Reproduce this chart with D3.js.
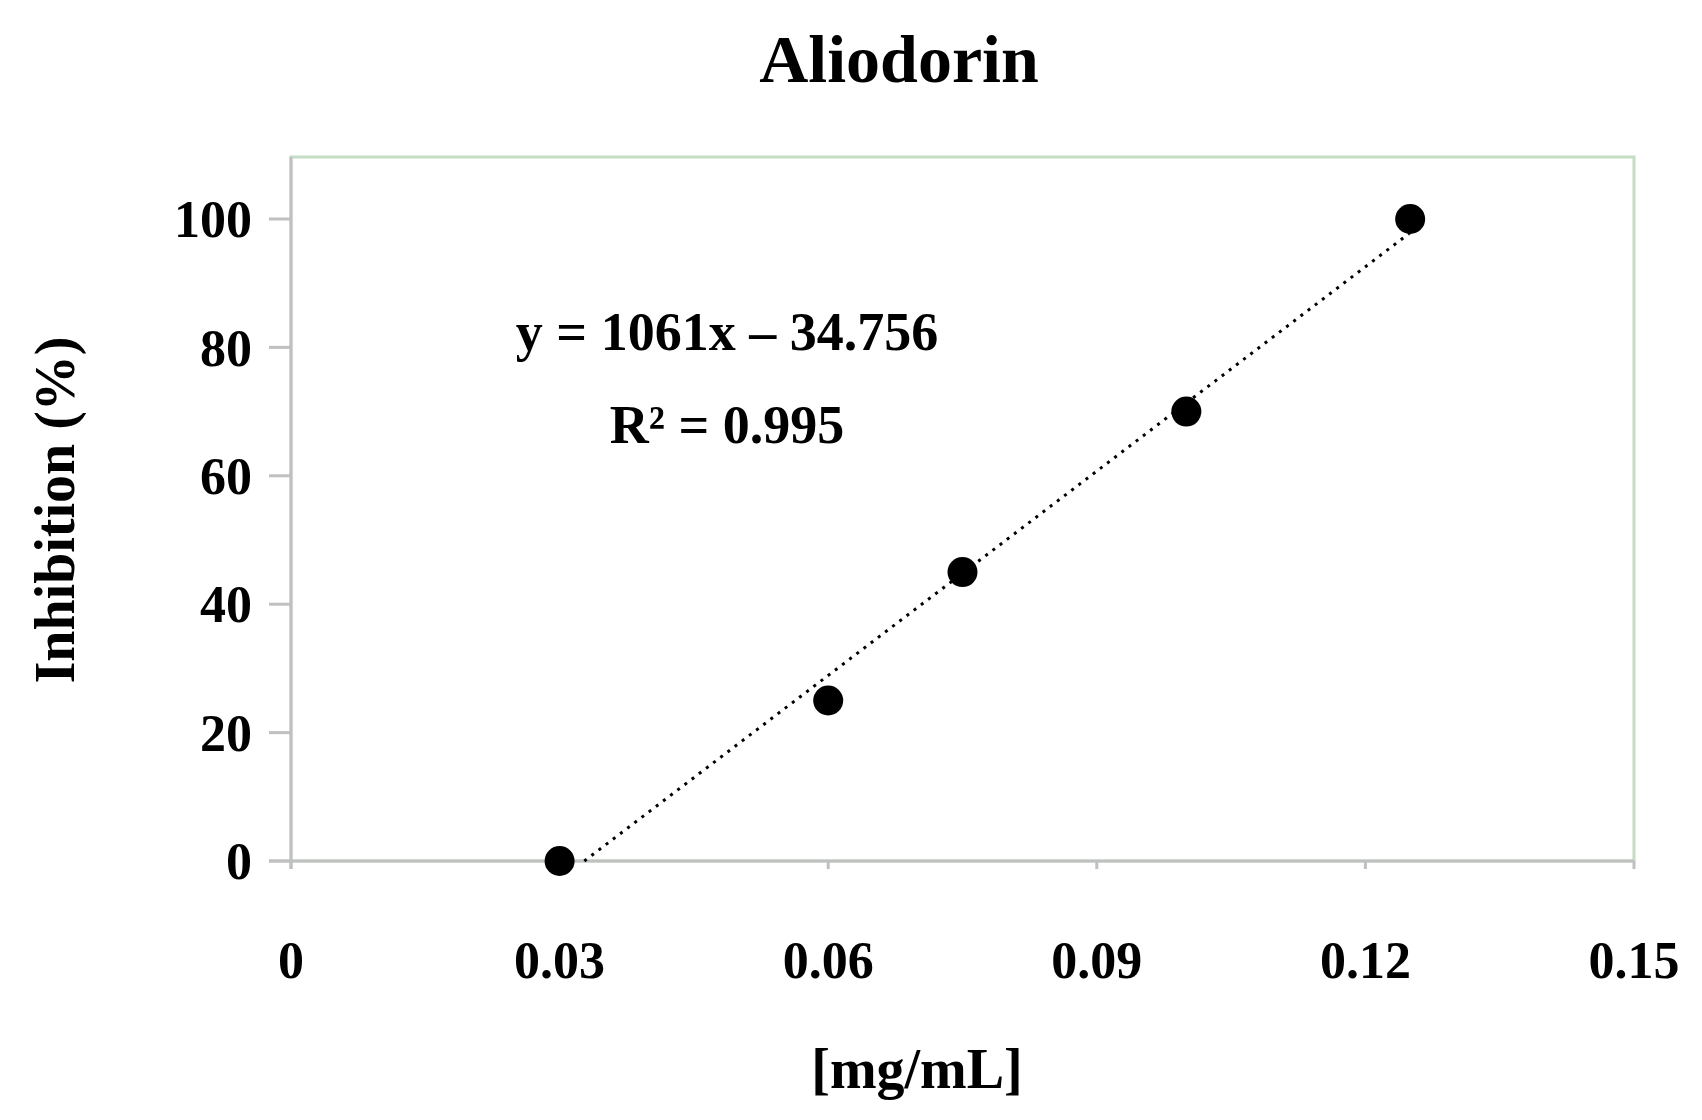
<!DOCTYPE html>
<html><head><meta charset="utf-8">
<script src="https://cdn.jsdelivr.net/npm/d3@7.9.0/dist/d3.min.js"></script>
<style>body{margin:0;background:#fff}text{font-family:"Liberation Serif","DejaVu Serif",serif;font-weight:bold;fill:#000}</style>
</head><body><svg id="chart" width="1702" height="1120"></svg>
<script>
const concentration = [0.03, 0.06, 0.075, 0.1, 0.125];
const inhibition = [0, 25, 45, 70, 100];
const xTicks = [0, 0.03, 0.06, 0.09, 0.12, 0.15];
const yTicks = [0, 20, 40, 60, 80, 100];
const slope = 1061, intercept = -34.756;

const svg = d3.select('#chart');
const pLeft = 291, pRight = 1634, pTop = 157, pBottom = 861;
const x = d3.scaleLinear().domain([0, 0.15]).range([pLeft, pRight]);
const y = d3.scaleLinear().domain([0, 100]).range([pBottom, 219]);

// frame
svg.append('rect').attr('x', pLeft).attr('y', pTop).attr('width', pRight - pLeft).attr('height', pBottom - pTop)
  .attr('fill', 'none').attr('stroke', '#c5dcc5').attr('stroke-width', 3);

// axes
svg.append('line').attr('x1', pLeft).attr('x2', pLeft).attr('y1', pTop).attr('y2', pBottom + 8)
  .attr('stroke', '#c0c0c0').attr('stroke-width', 3);
svg.append('line').attr('x1', pLeft - 22).attr('x2', pRight).attr('y1', y(0)).attr('y2', y(0))
  .attr('stroke', '#c0c0c0').attr('stroke-width', 3);

yTicks.forEach(t => {
  svg.append('line').attr('x1', pLeft - 22).attr('x2', pLeft).attr('y1', y(t)).attr('y2', y(t))
    .attr('stroke', '#c0c0c0').attr('stroke-width', 3);
  svg.append('text').attr('x', 252).attr('y', y(t)).attr('dy', '0.35em').attr('text-anchor', 'end')
    .attr('font-size', 52).text(t);
});
xTicks.forEach(t => {
  svg.append('line').attr('x1', x(t)).attr('x2', x(t)).attr('y1', pBottom).attr('y2', pBottom + 8)
    .attr('stroke', '#c0c0c0').attr('stroke-width', 3);
  svg.append('text').attr('x', x(t)).attr('y', 978).attr('text-anchor', 'middle')
    .attr('font-size', 52).text(t);
});

// trendline
const x0 = -intercept / slope;
svg.append('line').attr('x1', x(x0)).attr('y1', y(0)).attr('x2', x(0.125)).attr('y2', y(slope * 0.125 + intercept))
  .attr('stroke', '#000').attr('stroke-width', 3).attr('stroke-dasharray', '3,6');

svg.selectAll('circle').data(concentration).enter().append('circle')
  .attr('cx', d => x(d)).attr('cy', (d, i) => y(inhibition[i])).attr('r', 15).attr('fill', '#000');

// texts
svg.append('text').attr('x', 899).attr('y', 82).attr('text-anchor', 'middle').attr('font-size', 68).text('Aliodorin');
svg.append('text').attr('x', 917).attr('y', 1088).attr('text-anchor', 'middle').attr('font-size', 56).text('[mg/mL]');
svg.append('text').attr('transform', 'translate(74,510) rotate(-90)').attr('text-anchor', 'middle')
  .attr('font-size', 56).text('Inhibition (%)');
svg.append('text').attr('x', 727).attr('y', 350).attr('text-anchor', 'middle').attr('font-size', 54)
  .text('y = 1061x \u2013 34.756');
svg.append('text').attr('x', 727).attr('y', 443).attr('text-anchor', 'middle').attr('font-size', 54)
  .text('R\u00b2 = 0.995');
</script></body></html>
